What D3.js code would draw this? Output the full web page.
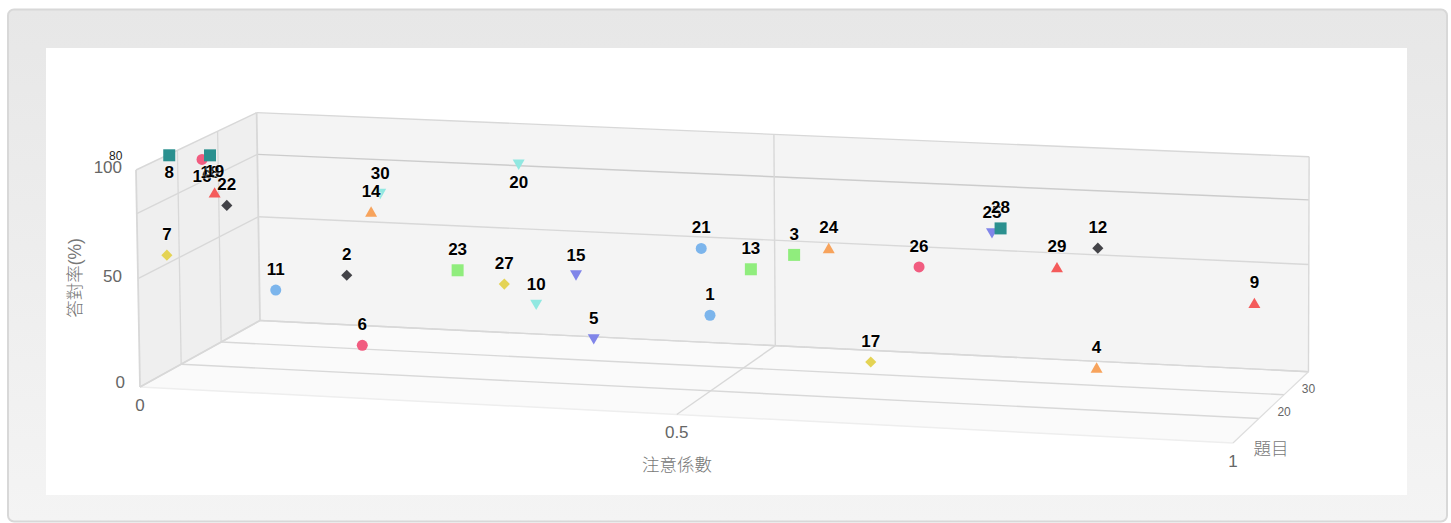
<!DOCTYPE html>
<html><head><meta charset="utf-8">
<script src="https://cdn.jsdelivr.net/npm/d3@7"></script>
<style>
html,body{margin:0;padding:0;background:#fff;overflow:hidden}
svg{display:block}
text{font-family:"Liberation Sans",Arial,sans-serif}
.cjk{font-family:"Liberation Sans","Noto Sans CJK TC",sans-serif;font-weight:300}
</style></head><body>
<svg id="c" width="1451" height="523"></svg>
<script>
const questions = d3.range(1, 31);
const attention = [0.528,0.189,0.599,0.869,0.408,0.188,0,0,0.998,0.338,0.088,0.85,0.529,0.169,0.359,0,0.628,0,0,0.289,0.458,0,0.219,0.569,0.719,0.648,0.25,0.719,0.769,0.12];
const correctRate = [44.7,54,71.7,26.2,26.7,17.6,54,99.5,53.3,35.8,35.8,71.7,53.7,71.4,44.9,90.3,9.1,90.4,72,90.3,53.9,63,36.2,53.7,63,44.7,26.4,62.4,44.4,63.6];
const seriesColors = ["#7cb5ec","#434348","#90ed7d","#f7a35c","#8085e9","#f15c80","#e4d354","#2b908f","#f45b5b","#91e8e1"];
const seriesSymbols = ["circle","diamond","square","triangle","triangleDown","circle","diamond","square","triangle","triangleDown"];
const belowLabels = [8,16,18,20];
const xTicks = [0,0.5,1];
const yTicks = [0,50,80,100];
const yLabelTicks = [0,50,100];
const zTicks = [0,10,20,30];
const zLabelTicks = [20,30];

const sx = d3.scaleLinear().domain([0,1]).range([0,1]);
const sy = d3.scaleLinear().domain([0,100]).range([0,1]);
const sz = d3.scaleLinear().domain([0,30]).range([0,1]);

// perspective projection of the unit cube
const O=[140,387], X1=[1233,443], Y1=[136,170], Z1=[260,320.5];
const p=-0.035, q=-0.004, r=0.045;
function project(x,y,z){
  const a=sx(x), b=sy(y), c=sz(z), w=1+p*a+q*b+r*c;
  const f=i=>(O[i]+a*((1+p)*X1[i]-O[i])+b*((1+q)*Y1[i]-O[i])+c*((1+r)*Z1[i]-O[i]))/w;
  return [f(0),f(1)];
}
const svg=d3.select("#c");
const defs=svg.append("defs");
const g=defs.append("linearGradient").attr("id","bg").attr("x1",0).attr("x2",0).attr("y1",0).attr("y2",1);
g.append("stop").attr("offset",0).attr("stop-color","#e7e7e7");
g.append("stop").attr("offset",1).attr("stop-color","#f4f4f4");
svg.append("rect").attr("x",8).attr("y",9.5).attr("width",1439).attr("height",512).attr("rx",6)
  .attr("fill","url(#bg)").attr("stroke","#d8d8d8").attr("stroke-width",2);
svg.append("rect").attr("x",46).attr("y",48).attr("width",1361).attr("height",447).attr("fill","#fff");

const poly=(pts,fill)=>svg.append("polygon").attr("points",pts.map(d=>project(...d).join(",")).join(" ")).attr("fill",fill);
poly([[0,0,0],[1,0,0],[1,0,30],[0,0,30]],"#fafafa");
poly([[0,0,0],[0,100,0],[0,100,30],[0,0,30]],"#efefef");
poly([[0,0,30],[0,100,30],[1,100,30],[1,0,30]],"#f4f4f4");

const line=(a,b,col="#d8d8d8",w=1.4)=>{const A=project(...a),B=project(...b);
  svg.append("line").attr("x1",A[0]).attr("y1",A[1]).attr("x2",B[0]).attr("y2",B[1]).attr("stroke",col).attr("stroke-width",w);};
// floor grid
zTicks.filter(z=>z>0).forEach(z=>line([0,0,z],[1,0,z]));
line([0,0,0],[1,0,0],"#eeeeee",1.5);
line([0.5,0,0],[0.5,0,30]);
// y grid on walls
yTicks.forEach(y=>{line([0,y,0],[0,y,30]);line([0,y,30],[1,y,30],y===80?"#cccccc":"#d8d8d8");});
// vertical grid
zTicks.forEach(z=>line([0,0,z],[0,100,z],"#d8d8d8",z===0||z===30?1.8:1.3));
line([0.5,0,30],[0.5,100,30]);
line([1,0,30],[1,100,30]);
line([0,0,0],[0,0,30],"#d8d8d8",1.8);
line([1,0,0],[1,0,30],"#dddddd",1.2);

const tick=(t,x,y,size,col,anchor="middle")=>svg.append("text").attr("x",x).attr("y",y).attr("dy","0.35em")
  .attr("text-anchor",anchor).attr("font-size",size).attr("fill",col).text(t);
xTicks.forEach(t=>{const P=project(t,0,0);tick(d3.format("")(t),P[0],P[1]+18,17,"#666");});
yLabelTicks.forEach(t=>{const P=project(0,t,0);tick(t,t===0?125:122,P[1]-(t===0?5:3),17,"#666","end");});
{const P=project(0,80,0);tick(80,P[0]-21,P[1]-58,12,"#222");}
zLabelTicks.forEach(t=>{const P=project(1,0,t);tick(t,P[0],P[1]+17,12,"#666");});

const title=(t,x,y,rot)=>svg.append("text").attr("class","cjk").attr("transform",`translate(${x},${y})`+(rot?` rotate(${rot})`:""))
  .attr("dy","0.35em").attr("text-anchor","middle").attr("font-size",17.5).attr("fill","#777").text(t);
title("注意係數",677,465);
title("答對率(%)",75,278,-90);
title("題目",1271,449);

const rows=questions.map((n,i)=>({n,x:attention[i],y:correctRate[i],z:n}));
const sym=s=>{
  if(s==="circle")return {p:d3.symbol(d3.symbolCircle,95)(),rot:0,dy:0};
  if(s==="square")return {p:d3.symbol(d3.symbolSquare,144)(),rot:0,dy:0};
  if(s==="diamond")return {p:d3.symbol(d3.symbolSquare,62)(),rot:45,dy:0};
  if(s==="triangle")return {p:d3.symbol(d3.symbolTriangle,62)(),rot:0,dy:1.7};
  return {p:d3.symbol(d3.symbolTriangle,62)(),rot:180,dy:-1.7};
};
rows.forEach(d=>{
  const P=project(d.x,d.y,d.z), k=(d.n-1)%10, s=sym(seriesSymbols[k]);
  svg.append("path").attr("d",s.p).attr("transform",`translate(${P[0]},${P[1]+s.dy}) rotate(${s.rot})`).attr("fill",seriesColors[k]);
});
rows.forEach(d=>{
  const P=project(d.x,d.y,d.z), below=belowLabels.includes(d.n);
  svg.append("text").attr("x",P[0]).attr("y",P[1]+(below?23:-15)).attr("text-anchor","middle").attr("font-size",17).attr("font-weight","bold")
    .attr("fill","#000").attr("stroke","#fff").attr("stroke-opacity",0.5).attr("stroke-width",1.5).attr("paint-order","stroke").text(d.n);
});
</script></body></html>
